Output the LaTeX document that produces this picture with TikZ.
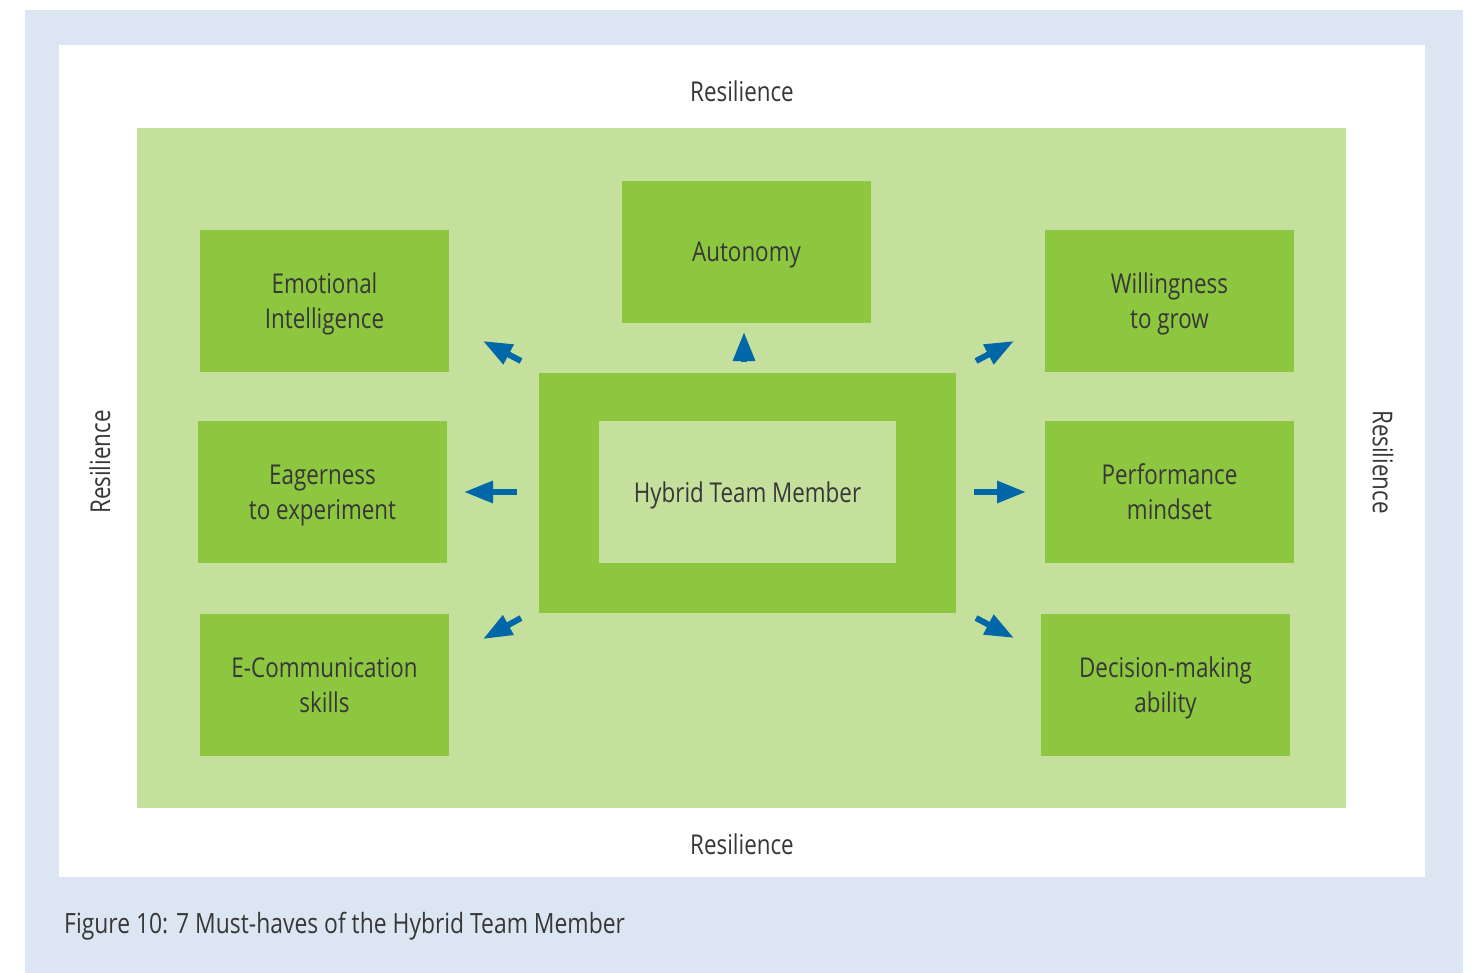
\documentclass[tikz,border=0pt]{standalone}
\usepackage{fontspec}
\setmainfont[FakeStretch=0.82]{Open Sans}
\usetikzlibrary{arrows.meta}
\definecolor{pageBlue}{RGB}{220,230,242}
\definecolor{paleGreen}{RGB}{197,223,156}
\definecolor{leafGreen}{RGB}{141,198,63}
\definecolor{arrowBlue}{RGB}{0,103,168}
\definecolor{inkGrey}{RGB}{55,55,55}
\tikzset{
    label text/.style={text=inkGrey, font=\fontsize{27.3}{35}\selectfont, inner sep=0pt},
    trait/.style={label text, fill=leafGreen, minimum width=249pt, minimum height=142pt, align=center, text depth=-3pt},
    arr/.style={draw=arrowBlue, line width=6pt, -{Triangle[length=29pt,width=21pt]}}
}

\begin{document}
\begin{tikzpicture}[x=1pt,y=-1pt]
    \useasboundingbox (0,0) rectangle (1471,973);
    \fill[pageBlue] (25,10) rectangle (1463,973);
    \fill[white] (59,45) rectangle (1425,877);
    \fill[paleGreen] (137,128) rectangle (1346,808);
    % resilience frame
    \node[label text] (resTop) at (742,91) {Resilience};
    \node[label text] (resBottom) at (742,844) {Resilience};
    \node[label text, rotate=90] (resLeft) at (100,462) {Resilience};
    \node[label text, rotate=-90] (resRight) at (1383,462) {Resilience};
    % hub
    \node[fill=leafGreen, minimum width=417pt, minimum height=240pt, inner sep=0pt] (hub) at (747.5,493) {};
    \node[label text, fill=paleGreen, minimum width=297pt, minimum height=142pt, text depth=-3pt] (hubInner) at (747.5,492) {Hybrid Team Member};
    % traits
    \node[trait] (emotion) at (324.5,301) {Emotional\\Intelligence};
    \node[trait] (autonomy) at (746.5,252) {Autonomy};
    \node[trait] (growth) at (1169.5,301) {Willingness\\to grow};
    \node[trait] (eager) at (322.5,492) {Eagerness\\to experiment};
    \node[trait] (perform) at (1169.5,492) {Performance\\mindset};
    \node[trait] (ecomm) at (324.5,685) {E-Communication\\skills};
    \node[trait] (decide) at (1165.5,685) {Decision-making\\ability};
    % arrows
    \coordinate (ul-tail) at (521,361); \coordinate (ul-tip) at (483,341);
    \coordinate (up-tail) at (744,362); \coordinate (up-tip) at (744,332);
    \coordinate (ur-tail) at (976,361); \coordinate (ur-tip) at (1014,341);
    \coordinate (le-tail) at (517,492); \coordinate (le-tip) at (464,492);
    \coordinate (ri-tail) at (974,492); \coordinate (ri-tip) at (1026,492);
    \coordinate (dl-tail) at (521,618); \coordinate (dl-tip) at (483,639);
    \coordinate (dr-tail) at (976,618); \coordinate (dr-tip) at (1014,638);
    \foreach \n in {ul,up,ur,le,ri,dl,dr}
        \draw[arr] (\n-tail) -- (\n-tip);
    % caption
    \node[label text, font=\fontsize{27.9}{35}\selectfont, anchor=base west] (caption) at (64,933) {Figure 10: 7 Must-haves of the Hybrid Team Member};
\end{tikzpicture}
\end{document}
